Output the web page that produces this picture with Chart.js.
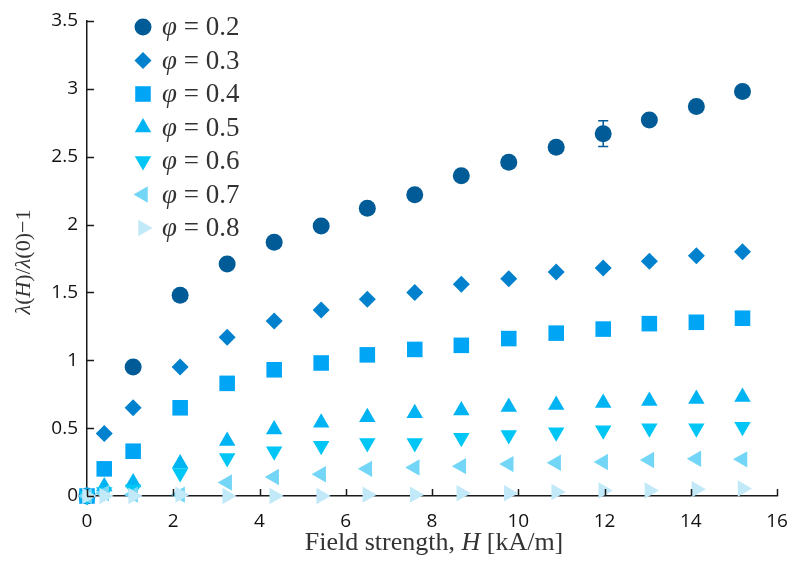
<!DOCTYPE html>
<html>
<head>
<meta charset="utf-8">
<script src="https://cdn.jsdelivr.net/npm/chart.js@4/dist/chart.umd.min.js"></script>
<style>
  html, body { margin: 0; padding: 0; background: #fff; }
  #wrap { width: 792px; height: 569px; }
</style>
</head>
<body>
<div id="wrap"><canvas id="fieldChart" width="792" height="569"></canvas></div>
<script>
// Campo magnético H [kA/m]
const hField = [0, 0.4, 1.07, 2.16, 3.25, 4.34, 5.43, 6.5, 7.6, 8.68, 9.78, 10.88, 11.97, 13.04, 14.13, 15.2];

// λ(H)/λ(0) - 1 para cada fracción φ
const phi02 = [0, null, 0.95, 1.48, 1.71, 1.87, 1.99, 2.12, 2.22, 2.36, 2.46, 2.57, 2.67, 2.77, 2.87, 2.98];
const phi03 = [0, 0.46, 0.65, 0.95, 1.17, 1.29, 1.37, 1.45, 1.50, 1.56, 1.60, 1.65, 1.68, 1.73, 1.77, 1.80];
const phi04 = [0, 0.20, 0.33, 0.65, 0.83, 0.93, 0.98, 1.04, 1.08, 1.11, 1.16, 1.20, 1.23, 1.27, 1.28, 1.31];
const phi05 = [0, 0.07, 0.10, 0.24, 0.405, 0.49, 0.54, 0.58, 0.61, 0.63, 0.655, 0.67, 0.685, 0.70, 0.715, 0.73];
const phi06 = [0, 0.03, 0.05, 0.17, 0.28, 0.33, 0.37, 0.39, 0.39, 0.43, 0.45, 0.47, 0.485, 0.50, 0.50, 0.51];
const phi07 = [0, 0.02, 0.01, 0.01, 0.10, 0.14, 0.16, 0.20, 0.21, 0.22, 0.235, 0.245, 0.25, 0.265, 0.275, 0.27];
const phi08 = [0, 0, 0, 0.01, 0, 0, 0, 0.01, 0.01, 0.02, 0.02, 0.03, 0.04, 0.04, 0.05, 0.055];

// barra de error (solo un punto de φ = 0.2)
const phi02Err = [null, null, null, null, null, null, null, null, null, null, null, null, 0.095, null, null, null];

const phiLabels = ['0.2', '0.3', '0.4', '0.5', '0.6', '0.7', '0.8'];
const yTicks = [0, 0.5, 1, 1.5, 2, 2.5, 3, 3.5];
const xTicks = [0, 2, 4, 6, 8, 10, 12, 14, 16];

const series = [phi02, phi03, phi04, phi05, phi06, phi07, phi08];
const colors = ['#005B96', '#0081CD', '#00A5F5', '#00B3F2', '#00C6F6', '#74D6F6', '#C2E9F8'];
const shapes = ['circle', 'rectRot', 'rect', 'triangle', 'triangle', 'triangle', 'triangle'];
const rotations = [0, 0, 0, 0, 180, 270, 90];
const radii = [8.5, 8.5, 11, 9.5, 9.5, 9.5, 9.5];

const datasets = series.map(function(vals, i) {
    return {
        label: 'φ = ' + phiLabels[i],
        data: hField.map(function(h, j) { return { x: h, y: vals[j] }; }).filter(p => p.y !== null),
        backgroundColor: colors[i],
        borderColor: colors[i],
        borderWidth: 0,
        pointStyle: shapes[i],
        pointRotation: rotations[i],
        pointRadius: radii[i],
        pointHoverRadius: radii[i],
        showLine: false,
        clip: false,
        order: series.length - i
    };
});

// ticks hacia adentro, barra de error, leyenda y títulos
const decoPlugin = {
    id: 'deco',
    afterDatasetsDraw(chart) {
        const ctx = chart.ctx;
        const xs = chart.scales.x, ys = chart.scales.y;
        // barra de error
        ctx.save();
        ctx.strokeStyle = colors[0];
        ctx.lineWidth = 1.5;
        phi02Err.forEach(function(e, j) {
            if (e === null) return;
            const px = xs.getPixelForValue(hField[j]);
            const top = ys.getPixelForValue(phi02[j] + e);
            const bot = ys.getPixelForValue(phi02[j] - e);
            ctx.beginPath();
            ctx.moveTo(px, top); ctx.lineTo(px, bot);
            ctx.moveTo(px - 5, top); ctx.lineTo(px + 5, top);
            ctx.moveTo(px - 5, bot); ctx.lineTo(px + 5, bot);
            ctx.stroke();
        });
        ctx.restore();
    },
    afterDraw(chart) {
        const ctx = chart.ctx;
        const area = chart.chartArea;
        const xs = chart.scales.x, ys = chart.scales.y;
        ctx.save();
        // marcas de los ejes
        ctx.strokeStyle = '#1a1a1a';
        ctx.lineWidth = 1.5;
        ctx.beginPath();
        xTicks.forEach(function(v) {
            const px = Math.round(xs.getPixelForValue(v)) + 0.5;
            ctx.moveTo(px, area.bottom); ctx.lineTo(px, area.bottom - 7);
        });
        yTicks.forEach(function(v) {
            const py = Math.round(ys.getPixelForValue(v)) + 0.5;
            ctx.moveTo(area.left, py); ctx.lineTo(area.left + 7, py);
        });
        ctx.stroke();

        // leyenda
        ctx.textBaseline = 'middle';
        for (let i = 0; i < series.length; i++) {
            const mx = 143, my = 27 + i * 33.5;
            const opts = { pointStyle: shapes[i], rotation: rotations[i], radius: radii[i], borderWidth: 0 };
            ctx.fillStyle = colors[i];
            ctx.strokeStyle = colors[i];
            if (Chart.helpers && Chart.helpers.drawPoint) {
                Chart.helpers.drawPoint(ctx, opts, mx, my);
            }
            ctx.fillStyle = '#333';
            ctx.font = 'italic 27px "Liberation Serif", serif';
            ctx.textAlign = 'left';
            ctx.fillText('φ', 162, my + 1);
            ctx.font = '27px "Liberation Serif", serif';
            ctx.fillText(' = ' + phiLabels[i], 177, my + 1);
        }

        // título eje x
        ctx.fillStyle = '#333';
        const xParts = [['Field strength, ', ''], ['H', 'italic '], [' [kA/m]', '']];
        drawParts(ctx, xParts, 434, 543, 26);

        // título eje y (rotado)
        ctx.translate(24, 262);
        ctx.rotate(-Math.PI / 2);
        const yParts = [['λ', 'italic '], ['(', ''], ['H', 'italic '], [')/', ''], ['λ', 'italic '], ['(0)−1', '']];
        drawParts(ctx, yParts, 0, 0, 22);
        ctx.restore();
    }
};

function drawParts(ctx, parts, cx, cy, size) {
    let total = 0;
    parts.forEach(function(p) {
        ctx.font = p[1] + size + 'px "Liberation Serif", serif';
        total += ctx.measureText(p[0]).width;
    });
    let x = cx - total / 2;
    ctx.textAlign = 'left';
    ctx.textBaseline = 'middle';
    parts.forEach(function(p) {
        ctx.font = p[1] + size + 'px "Liberation Serif", serif';
        ctx.fillText(p[0], x, cy);
        x += ctx.measureText(p[0]).width;
    });
}

const ctx = document.getElementById('fieldChart').getContext('2d');
const fieldChart = new Chart(ctx, {
    type: 'scatter',
    data: { datasets: datasets },
    options: {
        responsive: false,
        animation: false,
        layout: { padding: { left: 0, top: 21, right: 15, bottom: 0 } },
        plugins: {
            legend: { display: false },
            tooltip: { enabled: false }
        },
        scales: {
            x: {
                type: 'linear',
                min: 0,
                max: 16,
                afterFit: function(s) { s.height = 73; s.paddingLeft = 0; s.paddingRight = 0; },
                afterBuildTicks: function(s) { s.ticks = xTicks.map(v => ({ value: v })); },
                grid: { display: true, drawOnChartArea: false, drawTicks: false },
                border: { display: true, color: '#1a1a1a', width: 1.5 },
                ticks: {
                    padding: 14,
                    color: '#111',
                    font: { family: '"Open Sans", sans-serif', size: 19 },
                    maxRotation: 0,
                    callback: v => String(v)
                }
            },
            y: {
                min: 0,
                max: 3.5,
                afterFit: function(s) { s.width = 87; s.paddingTop = 0; s.paddingBottom = 0; },
                afterBuildTicks: function(s) { s.ticks = yTicks.map(v => ({ value: v })); },
                grid: { display: true, drawOnChartArea: false, drawTicks: false },
                border: { display: true, color: '#1a1a1a', width: 1.5 },
                ticks: {
                    padding: 9,
                    color: '#111',
                    font: { family: '"Open Sans", sans-serif', size: 19 },
                    callback: v => String(v)
                }
            }
        }
    },
    plugins: [decoPlugin]
});
</script>
</body>
</html>
